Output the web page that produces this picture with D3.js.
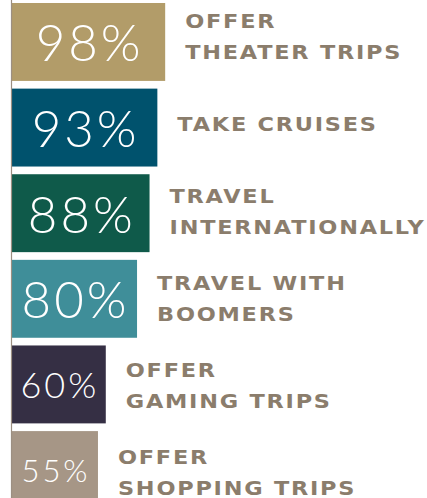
<!DOCTYPE html>
<html>
<head>
<meta charset="utf-8">
<script src="https://cdn.jsdelivr.net/npm/d3@7"></script>
<style>
  html, body { margin: 0; padding: 0; background: #fff; }
  #chart { width: 427px; height: 498px; overflow: hidden; }
</style>
</head>
<body>
<div id="chart"></div>
<script>
// data
const categories = ["theater", "cruises", "international", "boomers", "gaming", "shopping"];
const values = [98, 93, 88, 80, 60, 55];
const labels = [
  ["OFFER", "THEATER TRIPS"],
  ["TAKE CRUISES"],
  ["TRAVEL", "INTERNATIONALLY"],
  ["TRAVEL WITH", "BOOMERS"],
  ["OFFER", "GAMING TRIPS"],
  ["OFFER", "SHOPPING TRIPS"]
];

// styles
const barColors = ["#b29c69", "#00526d", "#0f5a4a", "#3f8e99", "#352f44", "#a69686"];
const pctSizes = [51, 51, 51, 51, 36, 31];
const labelColor = "#8b7d6c";

function chart() {
  const w = 427;
  const h = 498;

  const data = categories.map(function(c, i) {
    return { key: c, value: values[i], label: labels[i] };
  });

  const xScale = d3.scaleLinear()
                   .domain([0, 100])
                   .range([12, 168.3]);
  const yScale = d3.scaleBand()
                   .domain(categories)
                   .range([3, 509])
                   .paddingInner(0.09)
                   .paddingOuter(0);
  // label blocks sit on a slightly wider grid than the bars
  const yLabel = d3.scalePoint()
                   .domain(categories)
                   .range([37.5, 473.5]);
  const color = d3.scaleOrdinal().domain(categories).range(barColors);

  const svg = d3.select("#chart")
                .append("svg")
                .attr("width", w)
                .attr("height", h)
                .attr("viewBox", `0 0 ${w} ${h}`);

  // bars
  svg.selectAll("rect.bar")
     .data(data)
     .enter()
     .append("rect")
     .attr("class", "bar")
     .attr("x", xScale(0))
     .attr("y", function(d) { return yScale(d.key); })
     .attr("width", function(d) { return xScale(d.value) - xScale(0); })
     .attr("height", yScale.bandwidth())
     .attr("fill", function(d) { return color(d.key); });

  // left axis line, no ticks
  svg.append("line")
     .attr("x1", xScale(0) - 0.5)
     .attr("x2", xScale(0) - 0.5)
     .attr("y1", 0)
     .attr("y2", h)
     .attr("stroke", "#9c8f82")
     .attr("stroke-width", 1.2);

  // percentages inside bars
  svg.selectAll("text.pct")
     .data(data)
     .enter()
     .append("text")
     .attr("class", "pct")
     .attr("x", function(d) { return (xScale(0) + xScale(d.value)) / 2 + 1; })
     .attr("y", function(d) { return yScale(d.key) + yScale.bandwidth() / 2; })
     .attr("text-anchor", "middle")
     .attr("dominant-baseline", "central")
     .attr("fill", "#fff")
     .style("font-family", "Lato, 'Open Sans', sans-serif")
     .style("font-weight", 300)
     .style("letter-spacing", "3px")
     .style("font-size", function(d, i) { return pctSizes[i] + "px"; })
     .text(function(d) { return d.value + "%"; });

  // labels right of bars, glyphs stretched to look extended
  const lineGap = 31;
  const lab = svg.selectAll("text.label")
     .data(data)
     .enter()
     .append("text")
     .attr("class", "label")
     .attr("transform", function(d) {
       return "translate(" + (xScale(d.value) + 20) + "," + yLabel(d.key) + ") scale(1.18,1)";
     })
     .attr("fill", labelColor)
     .style("font-family", "'DejaVu Sans', sans-serif")
     .style("font-weight", "bold")
     .style("font-size", "19px")
     .style("letter-spacing", "1.5px");

  lab.selectAll("tspan")
     .data(function(d) {
       const n = d.label.length;
       return d.label.map(function(t, j) {
         return { text: t, y: (j - (n - 1) / 2) * lineGap };
       });
     })
     .enter()
     .append("tspan")
     .attr("x", 0)
     .attr("y", function(t) { return t.y; })
     .attr("dominant-baseline", "central")
     .text(function(t) { return t.text; });
}

chart();
</script>
</body>
</html>
